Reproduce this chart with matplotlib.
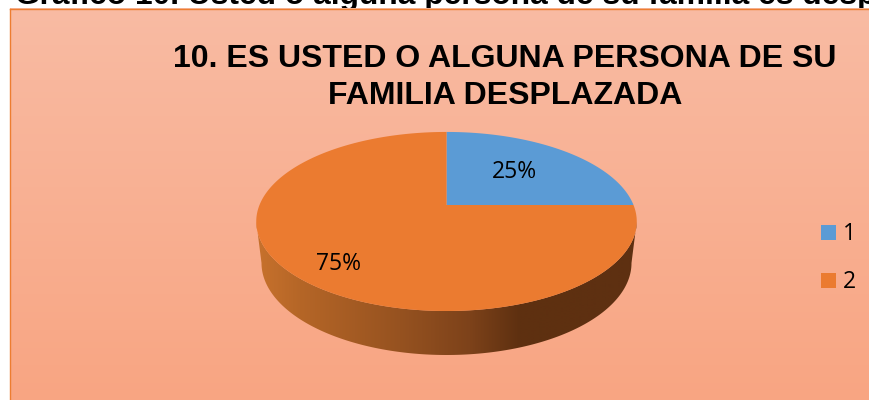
import numpy as np
import matplotlib
matplotlib.use('Agg')
import matplotlib.pyplot as plt
from matplotlib.patches import Polygon, Rectangle

W, H = 869, 400

title_lines = ['10. ES USTED O ALGUNA PERSONA DE SU', 'FAMILIA DESPLAZADA']
caption = 'Gráfico 10. Usted o alguna persona de su familia es desplazada'
categories = ['1', '2']
values = [25, 75]
labels = ['25%', '75%']
colors = ['#5B9BD5', '#EB7B30']

# pie geometry, in pixels of the reference
cx, apex_y = 446.5, 205
c, a, p = 187, 86.5, 0.184
depth_cy, depth_rx, depth_ry = 263, 185, 92


def project(theta):
    # unit circle tilted away from the viewer, theta clockwise from the top
    u, v = np.sin(theta), np.cos(theta)
    return cx + c * u / (1 + p * v), apex_y - a * v / (1 + p * v)


fig = plt.figure(figsize=(W / 100, H / 100), dpi=100)
ax = fig.add_axes([0, 0, 1, 1])
ax.set_xlim(0, W)
ax.set_ylim(H, 0)
ax.axis('off')

# caption of the page, cut off by the chart frame
ax.text(15, 4, caption, ha='left', va='baseline', fontsize=22.9,
        fontweight='bold', family='Liberation Sans', color='black', zorder=0.5)

# chart frame
grad = np.linspace(0, 1, 256)[:, None, None]
top_col = np.array([0xF8, 0xBB, 0xA3]) / 255
bot_col = np.array([0xF9, 0xA5, 0x82]) / 255
ax.imshow(top_col + grad * (bot_col - top_col), extent=[9.5, W + 5, H + 2, 8.5],
          aspect='auto', zorder=1)
ax.plot([9.5, 9.5], [8.5, H], color='#ED7D31', lw=1.0, zorder=2)
ax.plot([9.5, W], [8.5, 8.5], color='#ED7D31', lw=1.0, zorder=2)

# side wall, starting at the widest points of the top face
widest = np.arccos(-p)
t = np.linspace(widest, 2 * np.pi - widest, 200)
wx_top, wy_top = project(t)
lt = np.linspace(3 * np.pi / 2, np.pi / 2, 200)
wx_bot = cx + depth_rx * np.sin(lt)
wy_bot = depth_cy - depth_ry * np.cos(lt)
wall = Polygon(np.column_stack([np.r_[wx_top, wx_bot], np.r_[wy_top, wy_bot]]),
               fc='none', ec='none', zorder=3)
ax.add_patch(wall)
stops_x = [255, 300, 400, 470, 520, 640]
stops_c = np.array([[0xC8, 0x72, 0x2D], [0xB5, 0x66, 0x27], [0x96, 0x52, 0x20],
                    [0x7D, 0x42, 0x1A], [0x5E, 0x30, 0x10], [0x5E, 0x30, 0x12]]) / 255
xs = np.linspace(255, 640, 386)
wall_img = np.stack([np.interp(xs, stops_x, stops_c[:, i]) for i in range(3)], axis=-1)[None, :, :]
im = ax.imshow(wall_img, extent=[255, 640, 360, 200], aspect='auto', zorder=3)
im.set_clip_path(wall)
ax.set_xlim(0, W)
ax.set_ylim(H, 0)

# slices, from the values
start = 0.0
total = sum(values)
for val, col in zip(values, colors):
    end = start + val / total * 2 * np.pi
    th = np.linspace(start, end, 300)
    x, y = project(th)
    ax.add_patch(Polygon(np.column_stack([np.r_[cx, x], np.r_[apex_y, y]]),
                         fc=col, ec='none', zorder=4))
    start = end

ax.text(514.5, 172, labels[0], ha='center', va='center', fontsize=16.5,
        family='Open Sans', color='black', zorder=5)
ax.text(338.5, 264, labels[1], ha='center', va='center', fontsize=16.5,
        family='Open Sans', color='black', zorder=5)

ax.text(505, 59, title_lines[0], ha='center', va='center', fontsize=23,
        fontweight='bold', family='Liberation Sans', color='black', zorder=5)
ax.text(505, 96, title_lines[1], ha='center', va='center', fontsize=23,
        fontweight='bold', family='Liberation Sans', color='black', zorder=5)

# legend
for name, col, ly in zip(categories, colors, [232.5, 280.5]):
    ax.add_patch(Rectangle((821, ly - 7.5), 15, 15, fc=col, ec='none', zorder=5))
    ax.text(843, ly + 2, name, ha='left', va='center', fontsize=16.5,
            family='Open Sans', color='black', zorder=5)

fig.savefig('out.png', dpi=100)
